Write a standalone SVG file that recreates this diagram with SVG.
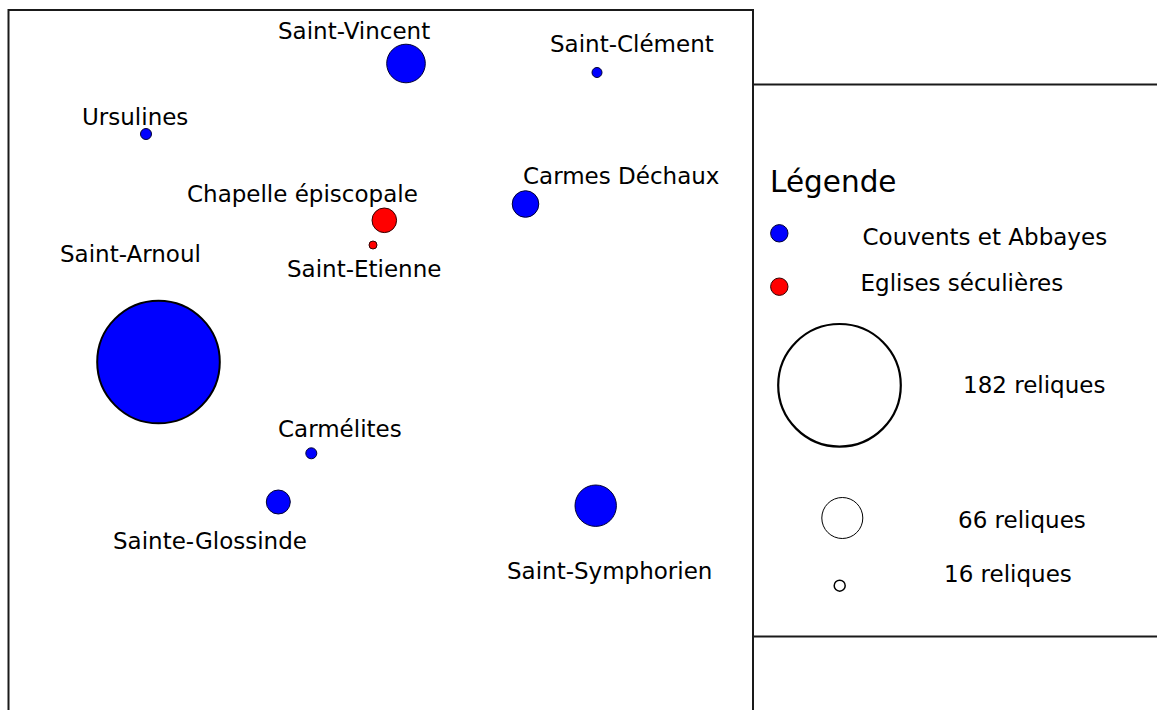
<svg xmlns="http://www.w3.org/2000/svg" width="1157" height="710" viewBox="0 0 1157 710">
<style>
text{font-family:"DejaVu Sans","Verdana",sans-serif;fill:#000}
.lbl{font-size:23px}
.leg{font-size:23px}
.ttl{font-size:29.5px}
.frame{fill:none;stroke:#1a1a1a;stroke-width:2}
.blue{fill:#0000ff;stroke:#000033;stroke-width:1}
.red{fill:#ff0000;stroke:#330000;stroke-width:1}
.size{fill:#fff;stroke:#000}
</style>
<rect width="1157" height="710" fill="#fff"/>
<rect class="frame" x="8.5" y="10" width="744.5" height="720"/>
<rect class="frame" x="753" y="84.5" width="420" height="552"/>
<g id="connectors"/>
<g id="saint-vincent"><circle class="blue" cx="406" cy="63.5" r="19.3"/><text class="lbl" x="278" y="38.5">Saint-Vincent</text></g>
<g id="saint-clement"><circle class="blue" cx="597" cy="72.5" r="5"/><text class="lbl" x="550" y="52">Saint-Clément</text></g>
<g id="ursulines"><circle class="blue" cx="146" cy="134" r="5.5"/><text class="lbl" x="82" y="124.5">Ursulines</text></g>
<g id="carmes-dechaux"><circle class="blue" cx="525.5" cy="204" r="13.3"/><text class="lbl" x="523" y="183.5">Carmes Déchaux</text></g>
<g id="chapelle-episcopale"><circle class="red" cx="384.3" cy="220.3" r="12.3"/><text class="lbl" x="187" y="202">Chapelle épiscopale</text></g>
<g id="saint-etienne"><circle class="red" cx="373" cy="245" r="4"/><text class="lbl" x="287" y="276.5">Saint-Etienne</text></g>
<g id="saint-arnoul"><circle class="blue" cx="158.5" cy="362" r="61.3" style="stroke:#000;stroke-width:2"/><text class="lbl" x="60" y="262">Saint-Arnoul</text></g>
<g id="carmelites"><circle class="blue" cx="311.3" cy="453.3" r="5.5"/><text class="lbl" x="278" y="437">Carmélites</text></g>
<g id="sainte-glossinde"><circle class="blue" cx="278.3" cy="502" r="12"/><text class="lbl" x="113" y="548.5">Sainte-Glossinde</text></g>
<g id="saint-symphorien"><circle class="blue" cx="595.7" cy="505.7" r="20.7"/><text class="lbl" x="507" y="578.5">Saint-Symphorien</text></g>
<g id="legende">
<text class="ttl" x="770" y="192">Légende</text>
<circle class="blue" cx="779.3" cy="233.3" r="8.7"/><text class="leg" x="862.5" y="244.5">Couvents et Abbayes</text>
<circle class="red" cx="779.3" cy="286.7" r="8.7"/><text class="leg" x="860.5" y="290.5">Eglises séculières</text>
<circle class="size" cx="839.5" cy="385.3" r="61.3" stroke-width="2.2"/><text class="leg" x="963" y="393">182 reliques</text>
<circle class="size" cx="842.3" cy="518" r="20.5" stroke-width="1"/><text class="leg" x="958" y="528">66 reliques</text>
<circle class="size" cx="839.7" cy="585.7" r="5.5" stroke-width="1.5"/><text class="leg" x="944" y="581.5">16 reliques</text>
</g>
</svg>
